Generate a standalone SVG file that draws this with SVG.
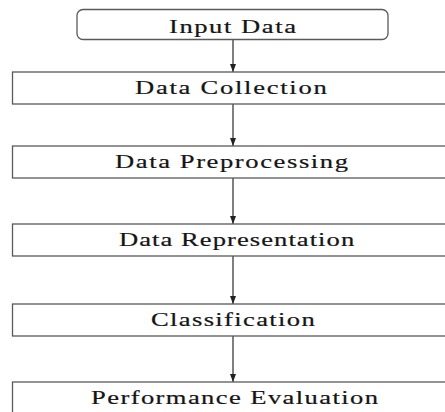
<svg xmlns="http://www.w3.org/2000/svg" width="445" height="412" viewBox="0 0 445 412">
  <defs>
    <marker id="arrow" viewBox="0 0 8 6" refX="8" refY="3" markerWidth="8" markerHeight="6" markerUnits="userSpaceOnUse" orient="auto">
      <path d="M0,0 L8,3 L0,6 Z" fill="#222"/>
    </marker>
  </defs>
  <style>
    .box { fill: #ffffff; stroke: #5a5a5a; stroke-width: 1.3; }
    .label { font-family: "Liberation Serif", "Times New Roman", serif; font-size: 19px; fill: #151515; stroke: #151515; stroke-width: 0.2; }
    .flow { stroke: #2a2a2a; stroke-width: 1.2; fill: none; marker-end: url(#arrow); }
  </style>
  <rect width="445" height="412" fill="#ffffff"/>

  <g id="connectors">
    <line class="flow" x1="233" y1="40" x2="233" y2="72"/>
    <line class="flow" x1="233" y1="104" x2="233" y2="146"/>
    <line class="flow" x1="233" y1="178" x2="233" y2="224"/>
    <line class="flow" x1="233" y1="256" x2="233" y2="304"/>
    <line class="flow" x1="233" y1="336" x2="233" y2="382"/>
  </g>

  <!-- labels: widened glyphs, extra spacing fills the measured run -->
  <g id="input-data">
    <rect class="box" x="77" y="9.5" width="311" height="30" rx="6"/>
    <text class="label" transform="translate(169 32.5) scale(1.4 1)" textLength="90.7" lengthAdjust="spacing">Input Data</text>
  </g>

  <g id="data-collection">
    <rect class="box" x="12.5" y="72" width="440" height="32"/>
    <text class="label" transform="translate(135 93.5) scale(1.4 1)" textLength="137" lengthAdjust="spacing">Data Collection</text>
  </g>

  <g id="data-preprocessing">
    <rect class="box" x="12.5" y="146" width="440" height="32"/>
    <text class="label" transform="translate(115 168) scale(1.4 1)" textLength="166.4" lengthAdjust="spacing">Data Preprocessing</text>
  </g>

  <g id="data-representation">
    <rect class="box" x="12.5" y="224" width="440" height="32"/>
    <text class="label" transform="translate(119 246) scale(1.4 1)" textLength="168" lengthAdjust="spacing">Data Representation</text>
  </g>

  <g id="classification">
    <rect class="box" x="12.5" y="304" width="440" height="32"/>
    <text class="label" transform="translate(151 325.5) scale(1.4 1)" textLength="117" lengthAdjust="spacing">Classification</text>
  </g>

  <g id="performance-evaluation">
    <rect class="box" x="12.5" y="382" width="440" height="40"/>
    <text class="label" transform="translate(91 403.5) scale(1.4 1)" textLength="205" lengthAdjust="spacing">Performance Evaluation</text>
  </g>
</svg>
